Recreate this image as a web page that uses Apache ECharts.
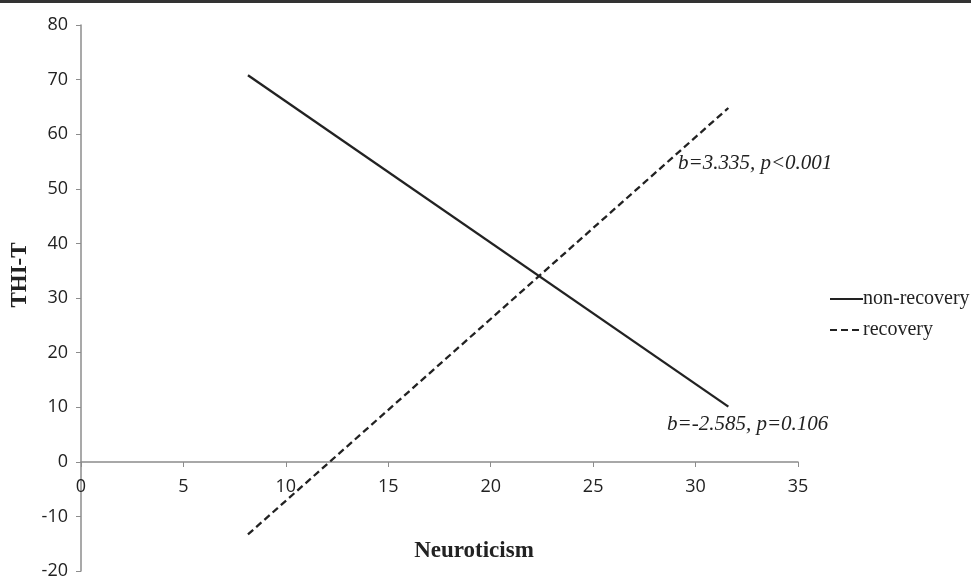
<!DOCTYPE html>
<html><head><meta charset="utf-8">
<script src="https://cdn.jsdelivr.net/npm/echarts@6/dist/echarts.min.js"></script>
<style>html,body{margin:0;padding:0;background:#fff}#c{width:971px;height:578px}</style>
</head><body><div id="c"></div>
<script>
const xTicks = [0, 5, 10, 15, 20, 25, 30, 35];
const yTicks = [-20, -10, 0, 10, 20, 30, 40, 50, 60, 70, 80];
const neuroticism = [8.15, 31.6];
const nonRecovery = [70.8, 10.1];
const recovery = [-13.3, 64.8];
const seriesNames = ['non-recovery', 'recovery'];
const annotations = ['b=3.335, p<0.001', 'b=-2.585, p=0.106'];

const chart = echarts.init(document.getElementById('c'));
const pairs = (xs, ys) => xs.map((x, i) => [x, ys[i]]);
const yMin = yTicks[0], yMax = yTicks[yTicks.length - 1];
const gridTop = 25, gridBottom = 7, H = 578;
const plotH = H - gridTop - gridBottom;
const zeroOffset = -Math.round(plotH * (0 - yMin) / (yMax - yMin));
chart.setOption({
  animation: false,
  backgroundColor: '#fff',
  grid: { left: 81, right: 173, top: gridTop, bottom: gridBottom, containLabel: false, outerBoundsMode: 'none' },
  xAxis: {
    type: 'value', min: xTicks[0], max: xTicks[xTicks.length - 1], interval: 5,
    position: 'bottom', offset: zeroOffset,
    axisLine: { onZero: false, lineStyle: { color: '#8c8c8c', width: 1.5 } },
    axisTick: { show: true, inside: false, length: 5, lineStyle: { color: '#8c8c8c' } },
    axisLabel: { color: '#222', fontFamily: 'Open Sans', fontSize: 18, margin: 16 },
    splitLine: { show: false }
  },
  yAxis: {
    type: 'value', min: yMin, max: yMax, interval: 10,
    axisLine: { show: true, onZero: false, lineStyle: { color: '#8c8c8c', width: 1.5 } },
    axisTick: { show: true, length: 5, lineStyle: { color: '#8c8c8c' } },
    axisLabel: { color: '#222', fontFamily: 'Open Sans', fontSize: 18, margin: 13 },
    splitLine: { show: false }
  },
  legend: {
    orient: 'vertical', left: 824, top: 284, itemGap: 11, itemWidth: 33, itemHeight: 14,
    itemStyle: { opacity: 0 },
    textStyle: { fontFamily: 'Liberation Serif', fontSize: 20, color: '#222', padding: [0, 0, 0, -5] },
    data: seriesNames
  },
  series: [
    { name: seriesNames[0], type: 'line', data: pairs(neuroticism, nonRecovery), symbol: 'none',
      lineStyle: { color: '#222', width: 2.3, type: 'solid' }, itemStyle: { color: '#222' } },
    { name: seriesNames[1], type: 'line', data: pairs(neuroticism, recovery), symbol: 'none',
      lineStyle: { color: '#222', width: 2.3, type: [7, 4] }, itemStyle: { color: '#222' } }
  ],
  graphic: [
    { type: 'rect', shape: { x: 0, y: 0, width: 971, height: 3 }, style: { fill: '#333' } },
    { type: 'text', x: 20, y: 275, rotation: Math.PI / 2,
      style: { text: 'THI-T', font: 'bold 23px "Liberation Serif"', fill: '#222', align: 'center', verticalAlign: 'middle' } },
    { type: 'text', x: 474, y: 551,
      style: { text: 'Neuroticism', font: 'bold 23px "Liberation Serif"', fill: '#222', align: 'center', verticalAlign: 'middle' } },
    { type: 'text', x: 678, y: 163,
      style: { text: annotations[0], font: 'italic 21px "Liberation Serif"', fill: '#222', align: 'left', verticalAlign: 'middle' } },
    { type: 'text', x: 667, y: 424,
      style: { text: annotations[1], font: 'italic 21px "Liberation Serif"', fill: '#222', align: 'left', verticalAlign: 'middle' } }
  ]
});
</script></body></html>
